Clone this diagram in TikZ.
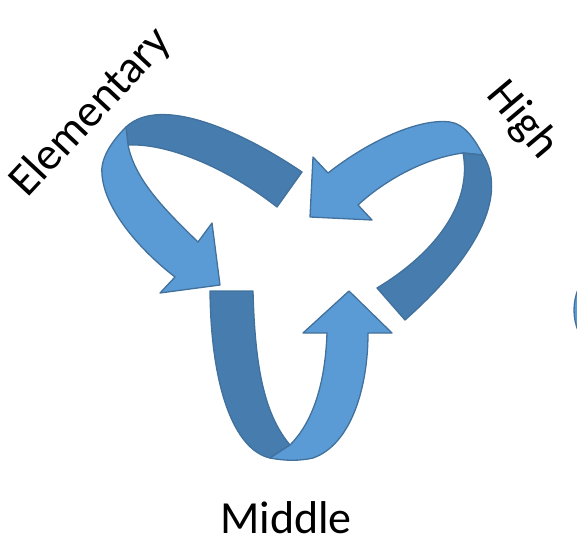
\documentclass[tikz,border=0pt]{standalone}
\usepackage{fontspec}
\setmainfont{Carlito}
\definecolor{frontblue}{HTML}{5B9BD5}
\definecolor{backblue}{HTML}{467CAE}
\definecolor{edgeblue}{HTML}{41719C}
\begin{document}
\begin{tikzpicture}
[x=1pt,y=-1pt,
 backband/.style={fill=backblue,draw=edgeblue,line width=1.3pt,line join=round},
 frontband/.style={fill=frontblue,draw=edgeblue,line width=1.3pt,line join=round},
 levellabel/.style={font=\fontsize{46}{55}\selectfont,inner sep=0pt,anchor=base}]
\useasboundingbox (0,0) rectangle (577,548);
%% elementary loop
\draw[backband] (302,172) .. controls (240,130) and (160,95) .. (126,127)
  -- (128,145) .. controls (170,143) and (230,170) .. (277,207) -- cycle;
\draw[frontband] (126,127) .. controls (110,143) and (100,160) .. (102,175)
  .. controls (105,210) and (140,250) .. (175,277)
  -- (160,293) -- (220,285) -- (212,223) -- (198,242)
  .. controls (165,210) and (135,180) .. (128,145) -- cycle;
%% middle loop
\draw[backband] (210,291) .. controls (211,390) and (235,450) .. (270,458)
  -- (290,445) .. controls (265,415) and (255,370) .. (253,291) -- cycle;
\draw[frontband] (270,458) .. controls (285,461) and (300,461) .. (313,458)
  .. controls (350,445) and (368,390) .. (368,333)
  -- (392,333) -- (349,291) -- (303,333) -- (327,333)
  .. controls (325,390) and (310,425) .. (290,445) -- cycle;
%% high loop
\draw[frontband] (328,173) .. controls (370,140) and (420,118) .. (450,122)
  .. controls (465,124) and (475,140) .. (483,155)
  -- (463,153) .. controls (425,158) and (385,180) .. (358,205)
  -- (372,220) -- (310,217) -- (313,157) -- cycle;
\draw[backband] (483,155) .. controls (502,185) and (495,240) .. (405,320)
  -- (377,288) .. controls (440,250) and (472,200) .. (463,153) -- cycle;
%% cut-off shape at the right edge
\begin{scope}
\clip (0,0) rectangle (577,548);
\draw[frontband] (629,310) circle[radius=55];
\end{scope}
%% labels
\node[levellabel,rotate=47] (elementary) at (100,121) {Elementary};
\node[levellabel,rotate=-50] (high) at (513,128) {High};
\node[levellabel] (middle) at (286,533) {Middle};
\end{tikzpicture}
\end{document}
